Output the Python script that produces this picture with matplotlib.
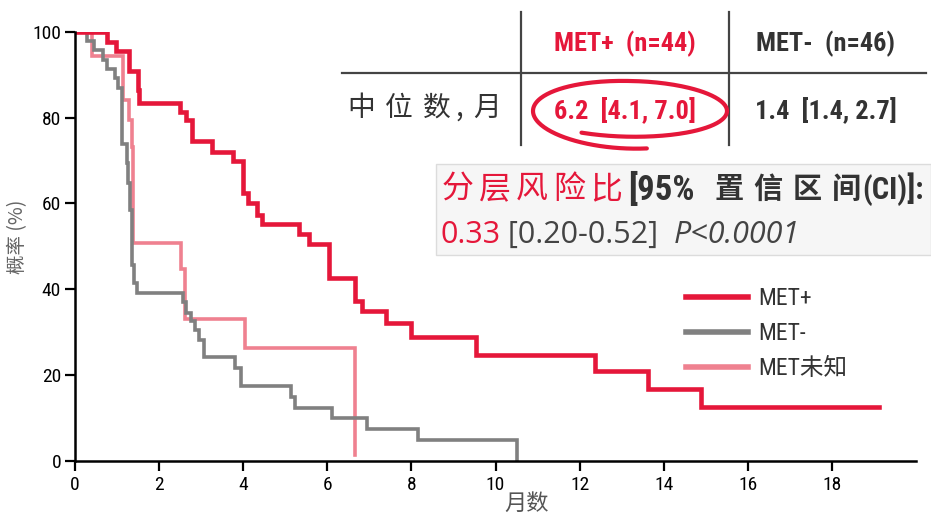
import numpy as np
import matplotlib
matplotlib.use("Agg")
import matplotlib.pyplot as plt
from matplotlib import font_manager
from matplotlib.lines import Line2D
from matplotlib.patches import Rectangle

# ---------------- data ----------------
met_pos_t = [0, 0.76, 0.97, 1.29, 1.49, 1.53, 2.50, 2.63, 2.78, 3.26, 3.75, 4.00, 4.12, 4.33,
             4.45, 5.32, 5.57, 6.05, 6.67, 6.82, 7.39, 7.99, 9.54, 12.36, 13.63, 14.88, 19.13]
met_pos_s = [100, 97.7, 95.5, 90.9, 86.4, 83.5, 81.4, 79.4, 74.5, 71.9, 69.9, 62.4, 60.0, 57.3,
             55.1, 52.8, 50.5, 42.6, 37.3, 34.9, 32.1, 29.0, 24.8, 21.0, 16.8, 12.5, 12.5]

met_neg_t = [0, 0.28, 0.44, 0.66, 0.75, 0.94, 1.03, 1.11, 1.23, 1.27, 1.31, 1.36, 1.41, 1.48,
             2.57, 2.65, 2.75, 2.85, 2.95, 3.06, 3.81, 3.95, 5.13, 5.24, 6.12, 6.95, 8.15, 10.51]
met_neg_s = [100, 97.8, 95.7, 93.5, 91.3, 89.1, 87.0, 73.8, 69.3, 64.7, 58.5, 45.7, 41.4, 39.1,
             37.0, 34.5, 32.5, 30.4, 28.3, 24.3, 21.7, 17.4, 15.0, 12.3, 9.9, 7.4, 4.9, 0]

met_unk_t = [0, 0.41, 1.15, 1.29, 1.35, 1.39, 2.53, 2.61, 4.05, 6.67]
met_unk_s = [100, 94.4, 84.1, 79.4, 73.2, 50.7, 44.8, 33.0, 26.3, 1.5]

series_labels = ["MET+", "MET-", "MET未知"]
x_ticks = [0, 2, 4, 6, 8, 10, 12, 14, 16, 18]
y_ticks = [0, 20, 40, 60, 80, 100]

# ---------------- fonts ----------------
avail = {f.name for f in font_manager.fontManager.ttflist}
def pick(*names):
    for n in names:
        if n in avail:
            return n
    return "DejaVu Sans"
COND = pick("Liberation Sans Narrow", "Roboto Condensed", "Open Sans Condensed", "Liberation Sans")
CJK = "Noto Sans CJK SC"
SANS = pick("Open Sans", "Noto Sans", "DejaVu Sans")
plt.rcParams["font.family"] = [COND, CJK, "DejaVu Sans"]

RED = "#E5173A"
GRAY = "#808080"
PINK = "#EF8190"
DARK = "#333333"

W, H = 931, 515
fig = plt.figure(figsize=(W / 100, H / 100), dpi=100)
ax = fig.add_axes([75 / W, 1 - 461 / H, (916 - 75) / W, (461 - 31.7) / H])

def fx(x):
    return x / W
def fy(y):
    return 1 - y / H

l_unk, = ax.step(met_unk_t, met_unk_s, where="post", color=PINK, lw=2.6, solid_joinstyle="miter")
l_neg, = ax.step(met_neg_t, met_neg_s, where="post", color=GRAY, lw=2.6, solid_joinstyle="miter")
l_pos, = ax.step(met_pos_t, met_pos_s, where="post", color=RED, lw=3.3, solid_joinstyle="miter")

ax.set_xlim(0, 20)
ax.set_ylim(0, 100)
ax.set_xticks(x_ticks)
ax.set_yticks(y_ticks)
ax.tick_params(axis="both", direction="out", length=7, width=1.6, labelsize=14, colors="black")
ax.tick_params(axis="y", pad=3)
for s in ["top", "right"]:
    ax.spines[s].set_visible(False)
for s in ["left", "bottom"]:
    ax.spines[s].set_linewidth(1.8)
ax.set_xlabel("月数", fontsize=16, color="#555555", family=[CJK])
ax.xaxis.set_label_coords((527 - 75) / 841, (461 - 503) / 429.3)
ax.xaxis.label.set_va("center")
ax.set_ylabel("概率 (%)", fontsize=14, color="#666666", family=[CJK, "DejaVu Sans"])
ax.yaxis.set_label_coords((18 - 75) / 841, (461 - 237) / 429.3)
ax.yaxis.label.set_va("center")

leg = ax.legend([l_pos, l_neg, l_unk], series_labels, loc="upper left",
                bbox_to_anchor=(fx(665), fy(266)), bbox_transform=fig.transFigure,
                frameon=False, handlelength=2.6, handletextpad=0.45,
                labelspacing=0.5, prop={"family": [COND, CJK], "size": 17})
for t in leg.get_texts():
    t.set_color(DARK)
for h in leg.legend_handles:
    h.set_linewidth(4)

# ---------------- table ----------------
tl = dict(transform=fig.transFigure, color="#444444", lw=1.6)
fig.add_artist(Line2D([fx(521), fx(521)], [fy(12), fy(145)], **tl))
fig.add_artist(Line2D([fx(729), fx(729)], [fy(12), fy(145)], **tl))
fig.add_artist(Line2D([fx(342), fx(926)], [fy(73), fy(73)], **tl))

fig.text(fx(625), fy(44), "MET+  (n=44)", color=RED, fontsize=19, ha="center", va="center",
         family=[COND], weight="bold")
fig.text(fx(826), fy(44), "MET-  (n=46)", color=DARK, fontsize=19, ha="center", va="center",
         family=[COND], weight="bold")
for ch, xc in zip(["中", "位", "数", ",", "月"], [361, 399, 437, 459, 487]):
    fig.text(fx(xc), fy(108), ch, color=DARK, fontsize=20, ha="center", va="center",
             family=[CJK])
fig.text(fx(625), fy(111), "6.2  [4.1, 7.0]", color=RED, fontsize=19, ha="center", va="center",
         family=[COND], weight="bold")
fig.text(fx(826), fy(111), "1.4  [1.4, 2.7]", color=DARK, fontsize=19, ha="center", va="center",
         family=[COND], weight="bold")

# hand-drawn circle annotation
th = np.linspace(np.deg2rad(80), np.deg2rad(480), 300)
bb = np.interp(th, [np.deg2rad(80), np.deg2rad(270), np.deg2rad(480)], [38, 30, 25])
ex = 630 + 97 * np.cos(th)
ey = 111 + bb * np.sin(th)
fig.add_artist(Line2D(fx(ex), fy(ey), transform=fig.transFigure, color=RED, lw=3.0,
                      solid_capstyle="round"))

# ---------------- HR box ----------------
fig.add_artist(Rectangle((fx(436), fy(255)), fx(931) - fx(436), fy(164) - fy(255),
                         transform=fig.transFigure, facecolor="#f6f6f6", edgecolor="#dcdcdc",
                         lw=1.0))

renderer = fig.canvas.get_renderer()

# line 1: characters placed on a wide pitch like the reference
for ch, xc in zip("分层风险比", [458, 495, 532, 569, 606]):
    fig.text(fx(xc), fy(189), ch, color=RED, fontsize=23, ha="center", va="center", family=[CJK])
fig.text(fx(628), fy(189), "[95%", color=DARK, fontsize=25, ha="left", va="center",
         family=[COND], weight="bold")
for ch, xc in zip("置信区间", [729, 768, 807, 846]):
    fig.text(fx(xc), fy(189), ch, color=DARK, fontsize=21, ha="center", va="center",
             family=[CJK], weight="bold")
fig.text(fx(862), fy(189), "(CI)]:", color=DARK, fontsize=22, ha="left", va="center",
         family=[COND], weight="bold")

def chain(x0, y, pieces):
    x = x0
    for txt, kw in pieces:
        t = fig.text(fx(x), fy(y), txt, va="center", ha="left", **kw)
        bb_ = t.get_window_extent(renderer=renderer)
        x = x + bb_.width

chain(440, 235, [
    ("0.33", dict(color=RED, fontsize=22, family=[SANS])),
    (" [0.20-0.52]  ", dict(color="#444444", fontsize=22, family=[SANS])),
    ("P<0.0001", dict(color="#444444", fontsize=22, family=[SANS], style="italic")),
])

fig.savefig("out.png", dpi=100)
